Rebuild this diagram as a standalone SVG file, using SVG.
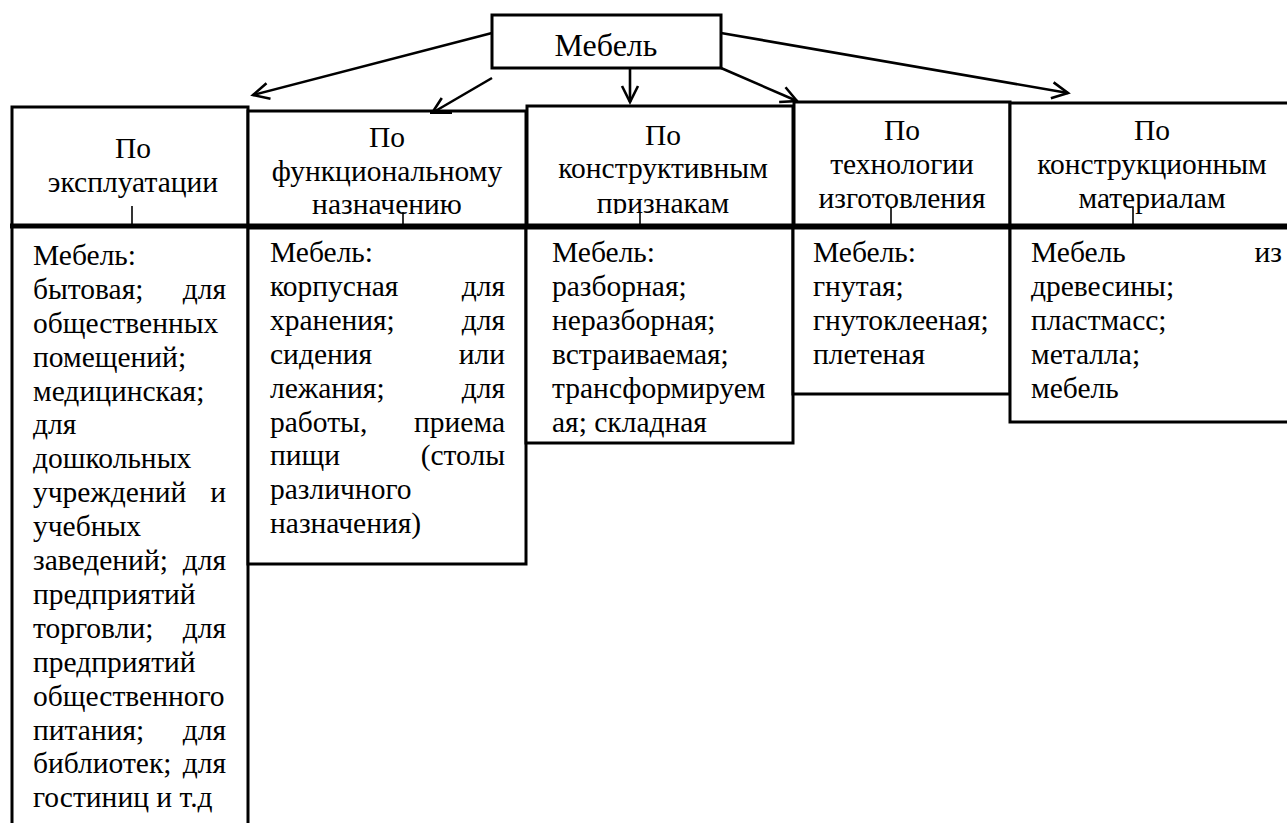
<svg xmlns="http://www.w3.org/2000/svg" width="1287" height="823" viewBox="0 0 1287 823">
<style>
  .box { fill: #fff; stroke: #000; stroke-width: 3; }
  .ln { fill: none; stroke: #000; stroke-width: 3; }
  .tick { stroke: #000; stroke-width: 1.6; }
  .conn { fill: none; stroke: #000; stroke-width: 2.6; marker-end: url(#arr); }
</style>
<defs>
  <marker id="arr" markerUnits="userSpaceOnUse" markerWidth="22" markerHeight="22" viewBox="0 0 22 22" refX="19" refY="11" orient="auto">
    <path d="M3,3 L19,11 L3,19" fill="none" stroke="#000" stroke-width="2.6"/>
  </marker>
  <clipPath id="clip3"><rect x="527" y="100" width="266" height="114"/></clipPath>
</defs>
<rect width="1287" height="823" fill="#fff"/>

<g id="connectors">
  <path class="conn" d="M492,33 L253,95"/>
  <path class="conn" d="M492,78 L432,113"/>
  <path class="conn" d="M630,69 L630,102"/>
  <path class="conn" d="M721,68 L797,101"/>
  <path class="conn" d="M721,33 L1068,93"/>
</g>

<g font-family="Liberation Serif" font-size="29.5" fill="#000">
<g id="root">
  <rect class="box" x="492" y="15" width="229" height="53" stroke-width="3.5"/>
  <text text-anchor="middle" font-size="32" x="606" y="56">Мебель</text>
</g>

<g id="h1" text-anchor="middle">
  <rect class="box" x="12" y="107" width="236" height="119"/>
  <text x="133" y="158">По</text>
  <text x="133" y="192">эксплуатации</text>
  <line class="tick" x1="132" y1="206" x2="132" y2="226"/>
</g>
<g id="h2" text-anchor="middle">
  <rect class="box" x="248" y="111" width="278" height="115"/>
  <line x1="430" y1="112" x2="452" y2="112" stroke="#000" stroke-width="4"/>
  <text x="387" y="147">По</text>
  <text x="387" y="181">функциональному</text>
  <text x="387" y="214">назначению</text>
  <line class="tick" x1="403" y1="212" x2="403" y2="228"/>
</g>
<g id="h3" text-anchor="middle">
  <rect class="box" x="527" y="106" width="266" height="120"/>
  <g clip-path="url(#clip3)">
    <text x="663" y="145">По</text>
    <text x="663" y="178">конструктивным</text>
    <text x="663" y="213">признакам</text>
  </g>
  <line class="tick" x1="640" y1="212" x2="640" y2="228"/>
</g>
<g id="h4" text-anchor="middle">
  <rect class="box" x="794" y="102" width="216" height="124"/>
  <text x="902" y="140">По</text>
  <text x="902" y="174">технологии</text>
  <text x="902" y="208">изготовления</text>
  <line class="tick" x1="891" y1="208" x2="891" y2="227"/>
</g>
<g id="h5" text-anchor="middle">
  <rect class="box" x="1010" y="103" width="290" height="123"/>
  <text x="1152" y="140">По</text>
  <text x="1152" y="174">конструкционным</text>
  <text x="1152" y="208">материалам</text>
  <line class="tick" x1="1133" y1="207" x2="1133" y2="226"/>
</g>

<g id="b1">
  <path class="ln" d="M12,226 L12,830 M248,226 L248,830"/>
  <text x="33" y="265">Мебель:</text>
  <text x="33" y="299">бытовая;</text><text text-anchor="end" x="226" y="299">для</text>
  <text x="33" y="333">общественных</text>
  <text x="33" y="367">помещений;</text>
  <text x="33" y="401">медицинская;</text>
  <text x="33" y="434">для</text>
  <text x="33" y="468">дошкольных</text>
  <text x="33" y="502">учреждений</text><text text-anchor="end" x="226" y="502">и</text>
  <text x="33" y="536">учебных</text>
  <text x="33" y="570">заведений;</text><text text-anchor="end" x="226" y="570">для</text>
  <text x="33" y="604">предприятий</text>
  <text x="33" y="638">торговли;</text><text text-anchor="end" x="226" y="638">для</text>
  <text x="33" y="672">предприятий</text>
  <text x="33" y="706">общественного</text>
  <text x="33" y="740">питания;</text><text text-anchor="end" x="226" y="740">для</text>
  <text x="33" y="773">библиотек;</text><text text-anchor="end" x="226" y="773">для</text>
  <text x="33" y="807">гостиниц и т.д</text>
</g>

<g id="b2">
  <rect class="box" x="248" y="228" width="278" height="336"/>
  <text x="270" y="262">Мебель:</text>
  <text x="270" y="296">корпусная</text><text text-anchor="end" x="505" y="296">для</text>
  <text x="270" y="330">хранения;</text><text text-anchor="end" x="505" y="330">для</text>
  <text x="270" y="364">сидения</text><text text-anchor="end" x="505" y="364">или</text>
  <text x="270" y="398">лежания;</text><text text-anchor="end" x="505" y="398">для</text>
  <text x="270" y="432">работы,</text><text text-anchor="end" x="505" y="432">приема</text>
  <text x="270" y="465">пищи</text><text text-anchor="end" x="505" y="465">(столы</text>
  <text x="270" y="499">различного</text>
  <text x="270" y="533">назначения)</text>
</g>

<g id="b3">
  <rect class="box" x="526" y="228" width="267" height="215"/>
  <text x="552" y="262">Мебель:</text>
  <text x="552" y="296">разборная;</text>
  <text x="552" y="330">неразборная;</text>
  <text x="552" y="364">встраиваемая;</text>
  <text x="552" y="398">трансформируем</text>
  <text x="552" y="432">ая; складная</text>
</g>

<g id="b4">
  <rect class="box" x="793" y="228" width="217" height="166"/>
  <text x="813" y="262">Мебель:</text>
  <text x="813" y="296">гнутая;</text>
  <text x="813" y="330">гнутоклееная;</text>
  <text x="813" y="364">плетеная</text>
</g>

<g id="b5">
  <rect class="box" x="1010" y="228" width="290" height="194"/>
  <text x="1031" y="262">Мебель</text><text text-anchor="end" x="1282" y="262">из</text>
  <text x="1031" y="296">древесины;</text>
  <text x="1031" y="330">пластмасс;</text>
  <text x="1031" y="364">металла;</text>
  <text x="1031" y="398">мебель</text>
</g>
</g>

<line x1="10" y1="226" x2="1287" y2="226" stroke="#000" stroke-width="5"/>
</svg>
